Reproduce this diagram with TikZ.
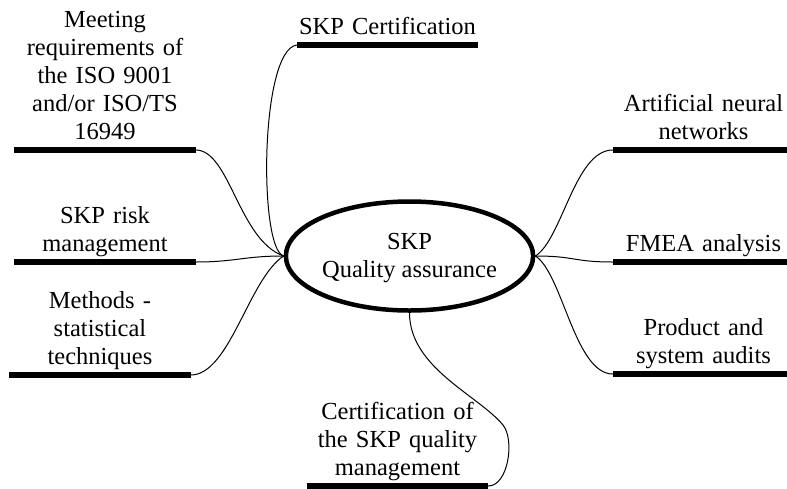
\documentclass[tikz,border=0pt]{standalone}
\usepackage{fontspec}
\setmainfont{Liberation Serif}
\usetikzlibrary{shapes.geometric}
\begin{document}
\begin{tikzpicture}[x=1pt,y=1pt]
\tikzstyle{every node}+=[inner sep=0pt, font=\fontsize{24.5}{28}\selectfont]
\tikzstyle{topic}=[align=center, text width=181pt, execute at end node=\strut, inner ysep=1.6pt, anchor=south]
\tikzstyle{bar}=[line width=5.5pt]
\tikzstyle{link}=[line width=1pt]
\useasboundingbox (0,0) rectangle (787,-488);
\node [draw, ellipse, line width=4.5pt, minimum width=231pt, minimum height=109pt, align=center, text height=49pt] (hub) at (409.5,-256) {SKP\\Quality assurance};
\node [topic] (iso) at (105,-150) {Meeting\\requirements of\\the ISO 9001\\and/or ISO/TS\\16949};
\node [topic] (risk) at (105,-262) {SKP risk\\management};
\node [topic] (stat) at (100,-375) {Methods -\\statistical\\techniques};
\node [topic] (cert) at (387.5,-45) {SKP Certification};
\node [topic] (qms) at (397.5,-486) {Certification of\\the SKP quality\\management};
\node [topic] (ann) at (703.5,-150) {Artificial neural\\networks};
\node [topic] (fmea) at (703.5,-262) {FMEA analysis};
\node [topic] (audit) at (703.5,-374) {Product and\\system audits};
\draw [bar] (iso.south west) -- (iso.south east);
\draw [bar] (risk.south west) -- (risk.south east);
\draw [bar] (stat.south west) -- (stat.south east);
\draw [bar] (cert.south west) -- (cert.south east);
\draw [bar] (qms.south west) -- (qms.south east);
\draw [bar] (ann.south west) -- (ann.south east);
\draw [bar] (fmea.south west) -- (fmea.south east);
\draw [bar] (audit.south west) -- (audit.south east);
\draw [link] (iso.south east) .. controls +(34,0) and +(-45,16) .. (hub.west);
\draw [link] (risk.south east) .. controls +(40,0) and +(-40,0) .. (hub.west);
\draw [link] (stat.south east) .. controls +(39,0) and +(-35,-23) .. (hub.west);
\draw [link] (cert.south west) .. controls +(-37,-5) and +(-25,7) .. (hub.west);
\draw [link] (hub.south) .. controls +(0,-55) and +(-25,30) .. (503,-425)
  .. controls +(12,-15) and +(20,0) .. (qms.south east);
\draw [link] (hub.east) .. controls +(27,17) and +(-38,0) .. (ann.south west);
\draw [link] (hub.east) .. controls +(40,0) and +(-40,0) .. (fmea.south west);
\draw [link] (hub.east) .. controls +(27,-17) and +(-38,0) .. (audit.south west);
\end{tikzpicture}
\end{document}
